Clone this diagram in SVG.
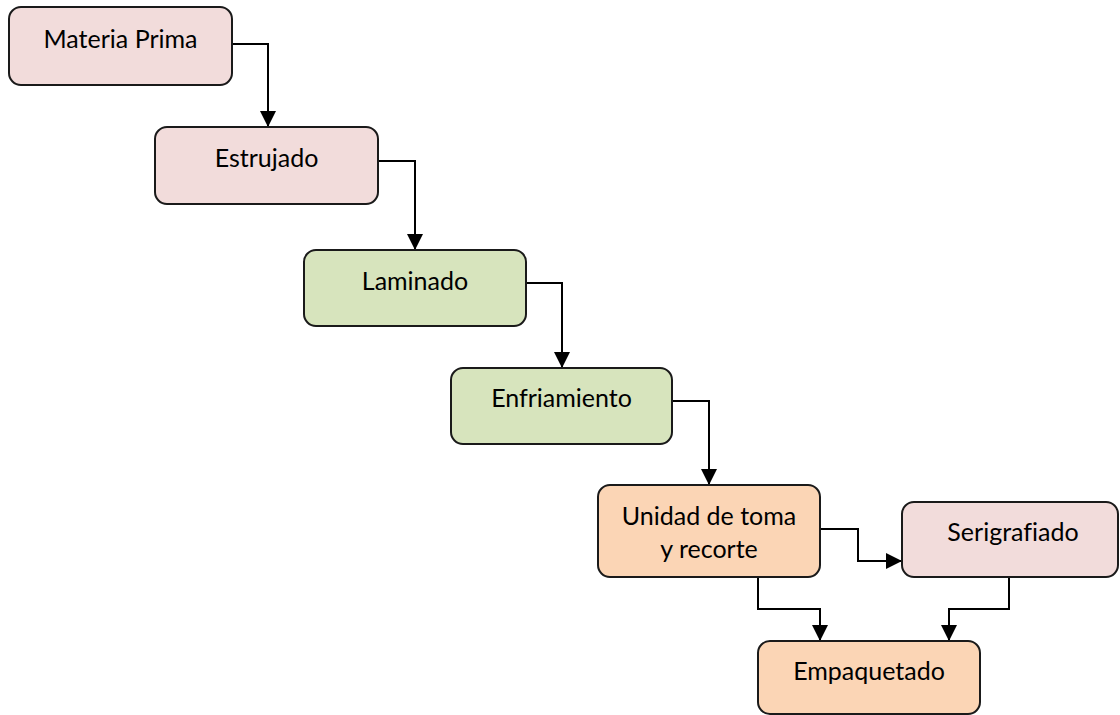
<svg xmlns="http://www.w3.org/2000/svg" width="1120" height="715" viewBox="0 0 1120 715">
<defs>
<marker id="arr" markerUnits="userSpaceOnUse" markerWidth="16" markerHeight="16" viewBox="0 0 10 10" refX="10" refY="5" orient="auto">
<path d="M0,0 L10,5 L0,10 z" fill="#000"/>
</marker>
<style>
.box{stroke:#1a1a1a;stroke-width:2}
.pink{fill:#f2dcdb}
.green{fill:#d7e4bd}
.orange{fill:#fbd5b5}
.lbl{font-family:Lato,"Liberation Sans",sans-serif;font-size:25px;fill:#000;text-anchor:middle;font-variant-ligatures:none;font-feature-settings:"liga" 0}
.con{fill:none;stroke:#000;stroke-width:2;marker-end:url(#arr)}
</style>
</defs>
<rect width="1120" height="715" fill="#fff"/>
<g id="connectors">
<path class="con" d="M232,44 H268 V127"/>
<path class="con" d="M378,161 H415 V250"/>
<path class="con" d="M526,283 H562 V368"/>
<path class="con" d="M672,401 H709 V485"/>
<path class="con" d="M820,529 H858 V561 H902"/>
<path class="con" d="M758,577 V609 H820 V641"/>
<path class="con" d="M1009,577 V609 H949 V641"/>
</g>
<g id="materia-prima">
<rect class="box pink" x="9" y="7" width="223" height="78" rx="12"/>
<text class="lbl" x="120.5" y="48">Materia Prima</text>
</g>
<g id="estrujado">
<rect class="box pink" x="155" y="127" width="223" height="77" rx="12"/>
<text class="lbl" x="266.5" y="167">Estrujado</text>
</g>
<g id="laminado">
<rect class="box green" x="304" y="250" width="222" height="76" rx="12"/>
<text class="lbl" x="415" y="290">Laminado</text>
</g>
<g id="enfriamiento">
<rect class="box green" x="451" y="368" width="221" height="76" rx="12"/>
<text class="lbl" x="561.5" y="407">Enfriamiento</text>
</g>
<g id="unidad">
<rect class="box orange" x="598" y="485" width="222" height="92" rx="12"/>
<text class="lbl" x="709" y="525">Unidad de toma</text>
<text class="lbl" x="709" y="558">y recorte</text>
</g>
<g id="serigrafiado">
<rect class="box pink" x="902" y="502" width="216" height="75" rx="12"/>
<text class="lbl" x="1013" y="541">Serigrafiado</text>
</g>
<g id="empaquetado">
<rect class="box orange" x="758" y="641" width="222" height="73" rx="12"/>
<text class="lbl" x="869" y="680">Empaquetado</text>
</g>
</svg>
